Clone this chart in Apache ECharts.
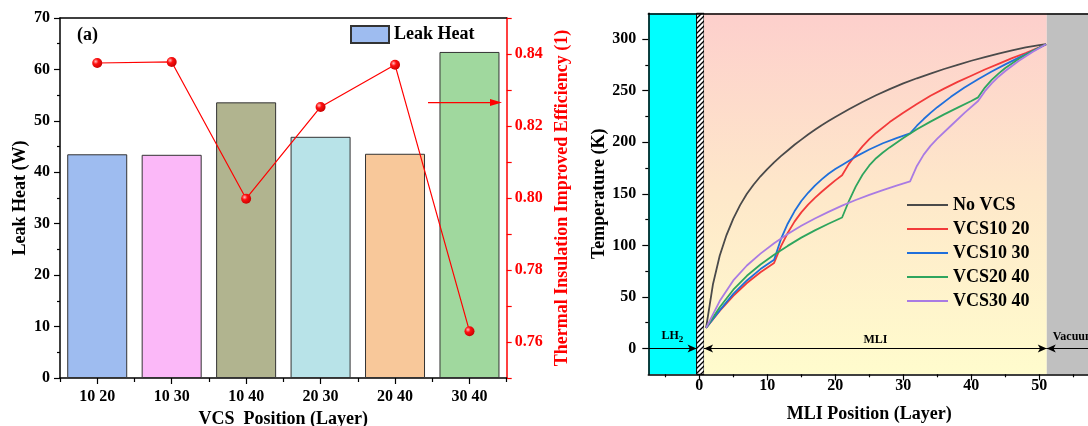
<!DOCTYPE html>
<html><head><meta charset="utf-8">
<script src="https://cdn.jsdelivr.net/npm/echarts@6/dist/echarts.min.js"></script>
<style>html,body{margin:0;padding:0;background:#fff}#c{width:1088px;height:426px}</style>
</head><body><div id="c"></div>
<script>
// ---------- Panel (a) data ----------
const categories = ['10 20', '10 30', '10 40', '20 30', '20 40', '30 40'];
const leakHeat = [43.5, 43.4, 53.6, 46.9, 43.6, 63.4];
const efficiency = [0.8375, 0.8378, 0.7998, 0.8253, 0.8370, 0.7630];
const barColors = ['#9EBCF0', '#FBB8F8', '#B1B48F', '#B8E3E8', '#F8C89A', '#A0D89E'];
const arrowEfficiency = 0.8265;

// ---------- Panel (b) data ----------
const seriesNames = ['No VCS', 'VCS10 20', 'VCS10 30', 'VCS20 40', 'VCS30 40'];
const noVcs = [[1,20],[2,62],[3,90],[4,110],[5,126],[6,139],[7,150],[8,159],[9,167],[10,174],[11,180.5],[12,186.5],[13,192],[14,197.5],[15,202.5],[16,207.5],[17,212],[18,216.5],[19,220.5],[20,224.5],[22,232],[24,239],[26,245.5],[28,251.5],[30,257],[32,262],[34,266.5],[36,271],[38,275],[40,279],[42,282.5],[44,286],[46,289],[48,292],[50,294.2],[51,295]];
const vcs1020 = [[1,20],[3,36.5],[5,51],[7,63.5],[9,74],[11,83],[12,99],[13,112],[14,123],[15,132],[16,139.5],[17,146],[18,152],[19,157.5],[20,163],[21,168],[22,179],[23,188],[24,196],[25,203],[26,209],[28,219.5],[30,228.5],[32,237],[34,245],[36,252],[38,258.5],[40,264.5],[42,270.5],[44,276],[46,281.5],[48,286.5],[50,292],[51,295]];
const vcs1030 = [[1,20],[3,37],[5,53],[7,66],[9,77],[11,86],[12,106],[13,121],[14,133],[15,143],[16,151],[17,158],[18,164],[19,169.5],[20,174],[21,178],[23,186],[25,193],[27,199],[29,204],[31,208.5],[32,216],[33,222.5],[34,228.5],[35,234],[37,244],[39,253],[41,261],[43,268.5],[45,275.5],[47,282],[49,288.5],[51,295]];
const vcs2040 = [[1,20],[3,40],[5,57],[7,70.5],[9,81.5],[11,91],[13,99.5],[15,107.5],[17,114.5],[19,121],[21,127],[22,143],[23,157],[24,168.5],[25,177.5],[26,184.5],[27,190],[28,195],[30,204],[32,212.5],[34,220],[36,227],[38,233.5],[40,240],[41,243.5],[42,253],[43,260.5],[44,266.5],[45,272],[47,281],[49,288.5],[51,295]];
const vcs3040 = [[1,20],[3,46],[5,66],[7,80.5],[9,92],[11,102],[13,111],[15,119],[17,126],[19,132.5],[21,138.5],[23,144],[25,149],[27,153.5],[29,158],[31,162],[32,177],[33,188],[34,196.5],[35,203.5],[37,216],[39,228.5],[41,240],[42,249.5],[43,257],[44,263.5],[45,269],[47,279],[49,287.5],[51,295]];
const curveColors = ['#4A4A4A', '#F23A3A', '#1F6FDB', '#2EA55E', '#A97BE3'];
const xTickLabels = [0, 10, 20, 30, 40, 50];
const xMinorTicks = [-5, 5, 15, 25, 35, 45, 55];
const yTickLabels = [0, 50, 100, 150, 200, 250, 300];
const yMinorTicks = [25, 75, 125, 175, 225, 275];
const regions = [
  {name: 'LH2', from: -7.5, to: -0.4},
  {name: 'wall', from: -0.4, to: 0.7},
  {name: 'MLI', from: 0.7, to: 51.1},
  {name: 'Vacuum', from: 51.1, to: 57.5}
];

const FONT = '"Liberation Serif","Times New Roman",serif';
const chart = echarts.init(document.getElementById('c'), null, {renderer: 'canvas'});

// hatch pattern for wall
const pc = document.createElement('canvas'); pc.width = 5; pc.height = 5;
const g = pc.getContext('2d');
g.fillStyle = '#fff'; g.fillRect(0, 0, 5, 5);
g.strokeStyle = '#000'; g.lineWidth = 1.3;
g.beginPath(); g.moveTo(0, 5); g.lineTo(5, 0); g.moveTo(-1, 1); g.lineTo(1, -1); g.moveTo(4, 6); g.lineTo(6, 4); g.stroke();

const regionStyle = {
  LH2: {color: '#00FFFF'},
  wall: {color: {image: pc, repeat: 'repeat'}, borderColor: '#000', borderWidth: 1},
  MLI: {color: {type: 'linear', x: 0, y: 0, x2: 0, y2: 1, colorStops: [{offset: 0, color: '#FDCFCC'}, {offset: 0.5, color: '#FEE8CA'}, {offset: 1, color: '#FFFCCD'}]}},
  Vacuum: {color: '#C0C0C0'}
};

const lbl = {fontFamily: FONT, fontWeight: 'bold', fontSize: 16, color: '#000'};
const nameStyle = {fontFamily: FONT, fontWeight: 'bold', fontSize: 18, color: '#000'};
const blackLine = {show: true, onZero: false, lineStyle: {color: '#000', width: 1.5}};

const option = {
  animation: false,
  backgroundColor: '#fff',
  grid: [
    {left: 60, top: 18, width: 446.7, height: 360, outerBoundsMode: 'none', containLabel: false},
    {left: 648.3, top: 13.3, width: 442, height: 361, outerBoundsMode: 'none', containLabel: false}
  ],
  legend: [
    {data: ['Leak Heat'], left: 350, top: 25, padding: 0, itemWidth: 38, itemHeight: 17, icon: 'rect', itemGap: 0,
     textStyle: {fontFamily: FONT, fontWeight: 'bold', fontSize: 18, color: '#000'}},
    {data: seriesNames, left: 907, top: 196, orient: 'vertical', padding: 0, itemWidth: 41, itemHeight: 2, icon: 'rect', itemGap: 6,
     textStyle: {fontFamily: FONT, fontWeight: 'bold', fontSize: 18, color: '#000'}}
  ],
  xAxis: [
    {type: 'category', gridIndex: 0, data: categories, boundaryGap: true, position: 'bottom',
     axisLine: blackLine, axisTick: {show: true, alignWithLabel: false, length: 4, lineStyle: {color: '#000', width: 1.2}},
     axisLabel: Object.assign({margin: 11}, lbl),
     name: 'VCS  Position (Layer)', nameLocation: 'middle', nameGap: 26, nameTextStyle: nameStyle, splitLine: {show: false}},
    {type: 'category', gridIndex: 0, data: categories, boundaryGap: true, position: 'bottom',
     axisLine: {show: false}, axisTick: {show: true, alignWithLabel: true, length: 6, lineStyle: {color: '#000', width: 1.2}},
     axisLabel: {show: false}, splitLine: {show: false}},
    {type: 'category', gridIndex: 0, data: categories, position: 'top',
     axisLine: blackLine, axisTick: {show: false}, axisLabel: {show: false}, splitLine: {show: false}},
    {type: 'value', gridIndex: 1, min: -7.5, max: 57.5, position: 'bottom', z: 10,
     axisLine: blackLine, axisTick: {show: true, customValues: xTickLabels, length: 6, lineStyle: {color: '#000', width: 1.2}},
     axisLabel: Object.assign({customValues: xTickLabels, margin: 4}, lbl),
     name: 'MLI Position (Layer)', nameLocation: 'middle', nameGap: 31, nameTextStyle: nameStyle, splitLine: {show: false}},
    {type: 'value', gridIndex: 1, min: -7.5, max: 57.5, position: 'bottom', z: 10,
     axisLine: {show: false, onZero: false}, axisTick: {show: true, customValues: xMinorTicks, length: 3, lineStyle: {color: '#000', width: 1.2}},
     axisLabel: {show: false}, splitLine: {show: false}},
    {type: 'value', gridIndex: 1, min: -7.5, max: 57.5, position: 'top', z: 10,
     axisLine: blackLine, axisTick: {show: false}, axisLabel: {show: false}, splitLine: {show: false}}
  ],
  yAxis: [
    {type: 'value', gridIndex: 0, min: 0, max: 70, interval: 10, position: 'left',
     axisLine: blackLine, axisTick: {show: true, length: 6, lineStyle: {color: '#000', width: 1.2}},
     minorTick: {show: true, splitNumber: 2, length: 3, lineStyle: {color: '#000', width: 1.2}},
     axisLabel: Object.assign({margin: 10}, lbl), splitLine: {show: false}, minorSplitLine: {show: false},
     name: 'Leak Heat (W)', nameLocation: 'middle', nameGap: 31, nameRotate: 90, nameTextStyle: nameStyle},
    {type: 'value', gridIndex: 0, min: 0.75, max: 0.85, interval: 0.01, position: 'right',
     axisLine: {show: true, onZero: false, lineStyle: {color: '#FF0000', width: 1.5}},
     axisTick: {show: true, length: 5, lineStyle: {color: '#FF0000', width: 1.2}},
     axisLabel: Object.assign({}, lbl, {color: '#FF0000', margin: 8,
       formatter: v => (Math.round(v * 100) % 2 === 0 && v > 0.755 && v < 0.845) ? v.toFixed(2) : ''}),
     splitLine: {show: false},
     name: 'Thermal Insulation Improved Efficiency (1)', nameLocation: 'middle', nameGap: 47, nameRotate: 90,
     nameTextStyle: Object.assign({}, nameStyle, {color: '#FF0000'})},
    {type: 'value', gridIndex: 1, min: -25, max: 325, position: 'left', z: 10,
     axisLine: blackLine, axisTick: {show: true, customValues: yTickLabels, length: 6, lineStyle: {color: '#000', width: 1.2}},
     axisLabel: Object.assign({customValues: yTickLabels, margin: 12}, lbl), splitLine: {show: false},
     name: 'Temperature (K)', nameLocation: 'middle', nameGap: 38, nameRotate: 90, nameTextStyle: nameStyle},
    {type: 'value', gridIndex: 1, min: -25, max: 325, position: 'left', z: 10,
     axisLine: {show: false, onZero: false}, axisTick: {show: true, customValues: yMinorTicks, length: 3, lineStyle: {color: '#000', width: 1.2}},
     axisLabel: {show: false}, splitLine: {show: false}}
  ],
  series: [
    {name: 'Leak Heat', type: 'bar', xAxisIndex: 0, yAxisIndex: 0, barWidth: '80.6%',
     itemStyle: {color: barColors[0], borderColor: '#333', borderWidth: 1},
     data: leakHeat.map((v, i) => ({value: v, itemStyle: {color: barColors[i]}}))},
    {name: 'Efficiency', type: 'line', xAxisIndex: 0, yAxisIndex: 1, data: efficiency, z: 5,
     symbol: 'circle', symbolSize: 10,
     lineStyle: {color: '#FF0000', width: 1.2},
     itemStyle: {color: {type: 'radial', x: 0.35, y: 0.35, r: 0.75, colorStops: [{offset: 0, color: '#FFC0C0'}, {offset: 0.35, color: '#FF1010'}, {offset: 1, color: '#C00000'}]}}},
    {name: 'regions', type: 'line', xAxisIndex: 3, yAxisIndex: 2, data: [], z: 1, silent: true,
     markArea: {silent: true, data: regions.map(r => [
       {xAxis: r.from, yAxis: -25, itemStyle: regionStyle[r.name]}, {xAxis: r.to, yAxis: 325}])},
     markLine: {silent: true, symbolSize: [6, 9], lineStyle: {color: '#000', width: 1, type: 'solid'},
       data: [
         [{coord: [regions[0].from, 0], symbol: 'none',
           label: {show: true, position: 'insideMiddleTop', distance: 4, formatter: '{a|LH}{s|2}',
             rich: {a: {fontFamily: FONT, fontWeight: 'bold', fontSize: 12, color: '#000'},
                    s: {fontFamily: FONT, fontWeight: 'bold', fontSize: 9, color: '#000', padding: [8, 0, 0, 0]}}}},
          {coord: [regions[0].to, 0], symbol: 'arrow'}],
         [{coord: [regions[2].from, 0], symbol: 'arrow',
           label: {show: true, position: 'insideMiddleTop', distance: 3, formatter: 'MLI', fontFamily: FONT, fontWeight: 'bold', fontSize: 12, color: '#000'}},
          {coord: [regions[2].to, 0], symbol: 'arrow'}],
         [{coord: [regions[3].from, 0], symbol: 'arrow',
           label: {show: true, position: 'insideStartTop', distance: 6, formatter: 'Vacuum', fontFamily: FONT, fontWeight: 'bold', fontSize: 12, color: '#000'}},
          {coord: [regions[3].to, 0], symbol: 'none'}]
       ]}},
    ...[noVcs, vcs1020, vcs1030, vcs2040, vcs3040].map((d, i) => ({
      name: seriesNames[i], type: 'line', xAxisIndex: 3, yAxisIndex: 2, data: d, z: 3,
      showSymbol: false, symbol: 'none', smooth: false,
      lineStyle: {color: curveColors[i], width: 1.8}, itemStyle: {color: curveColors[i]}
    }))
  ]
};
chart.setOption(option);

// annotations: panel labels and axis-pointing arrow
const ya = chart.convertToPixel({yAxisIndex: 1}, arrowEfficiency);
chart.setOption({
  graphic: [
    {type: 'text', left: 77, top: 26, style: {text: '(a)', font: 'bold 18px ' + FONT, fill: '#000'}},
    {type: 'text', left: 1061, top: 19, style: {text: '(b)', font: 'bold 17px ' + FONT, fill: '#000'}},
    {type: 'line', shape: {x1: 428, y1: ya, x2: 494, y2: ya}, style: {stroke: '#FF0000', lineWidth: 1.2}, z: 20},
    {type: 'polygon', shape: {points: [[502, ya], [490, ya - 3.5], [490, ya + 3.5]]}, style: {fill: '#FF0000'}, z: 20}
  ]
});
</script></body></html>
